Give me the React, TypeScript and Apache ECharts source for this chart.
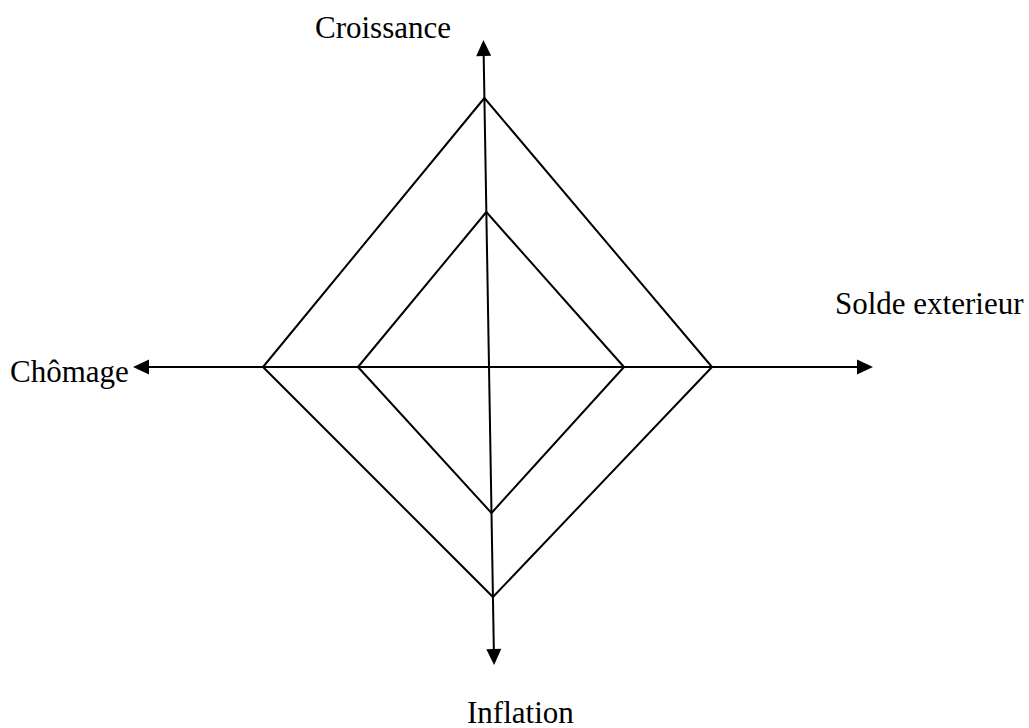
import React, { useEffect, useRef } from "react";
import * as echarts from "echarts";

// Axis names (top, right, bottom, left)
const axisNames = ["Croissance", "Solde exterieur", "Inflation", "Chômage"];
// Outer and inner squares: value on each axis (top, right, bottom, left)
const outerValues = [107.6, 89.2, 92, 90.4];
const innerValues = [62, 54, 58.4, 52.4];
// Length of each axis up to its arrow tip (top, right, bottom, left)
const axisExtents = [130.8, 153.6, 119.2, 142.4];
// Slight tilt of the vertical axis (x shift per unit of y)
const verticalTilt = -0.0171;

const PX_PER_UNIT = 2.5;
const ARROW_W = 15;
const ARROW_H = 16;

function squarePoints(v: number[]): number[][] {
  const top = [verticalTilt * v[0], v[0]];
  const right = [v[1], 0];
  const bottom = [verticalTilt * -v[2], -v[2]];
  const left = [-v[3], 0];
  return [top, right, bottom, left, top];
}

export default function App() {
  const ref = useRef<HTMLDivElement>(null);
  useEffect(() => {
    if (!ref.current) return;
    const chart = echarts.init(ref.current, null, { renderer: "svg" });
    const back = ARROW_H / 2 / PX_PER_UNIT;
    const topY = axisExtents[0] - back;
    const botY = -(axisExtents[2] - back);
    const rightX = axisExtents[1] - back;
    const leftX = -(axisExtents[3] - back);
    const lineStyle = { color: "#000", width: 2, type: "solid" as const };
    const textStyle = {
      fontFamily: "Liberation Serif",
      fontSize: 31,
      fill: "#000",
      verticalAlign: "middle" as const,
      align: "left" as const,
    };
    chart.setOption({
      animation: false,
      backgroundColor: "#fff",
      grid: { left: 0, right: 0, top: 0, bottom: 0 },
      xAxis: { type: "value", show: false, min: -195.6, max: 216 },
      yAxis: { type: "value", show: false, min: -144.4, max: 146.8 },
      series: [
        {
          type: "line",
          data: squarePoints(outerValues),
          symbol: "none",
          silent: true,
          lineStyle: { color: "#000", width: 2 },
          markLine: {
            silent: true,
            symbol: ["triangle", "triangle"],
            symbolSize: [ARROW_W, ARROW_H],
            label: { show: false },
            emphasis: { disabled: true },
            lineStyle,
            itemStyle: { color: "#000" },
            data: [
              [
                { coord: [verticalTilt * topY, topY] },
                { coord: [verticalTilt * botY, botY] },
              ],
              [{ coord: [leftX, 0] }, { coord: [rightX, 0] }],
            ],
          },
        },
        {
          type: "line",
          data: squarePoints(innerValues),
          symbol: "none",
          silent: true,
          lineStyle: { color: "#000", width: 2 },
        },
      ],
      graphic: [
        { type: "text", left: 315, top: 12, style: { ...textStyle, text: axisNames[0], verticalAlign: "top" } },
        { type: "text", x: 835, y: 303.5, style: { ...textStyle, text: axisNames[1] } },
        { type: "text", x: 467, y: 712, style: { ...textStyle, text: axisNames[2] } },
        { type: "text", x: 10, y: 371.5, style: { ...textStyle, text: axisNames[3] } },
      ],
    });
    return () => chart.dispose();
  }, []);
  return (
    <div
      ref={ref}
      style={{ position: "fixed", left: 0, top: 0, width: 1029, height: 728, background: "#fff" }}
    />
  );
}
